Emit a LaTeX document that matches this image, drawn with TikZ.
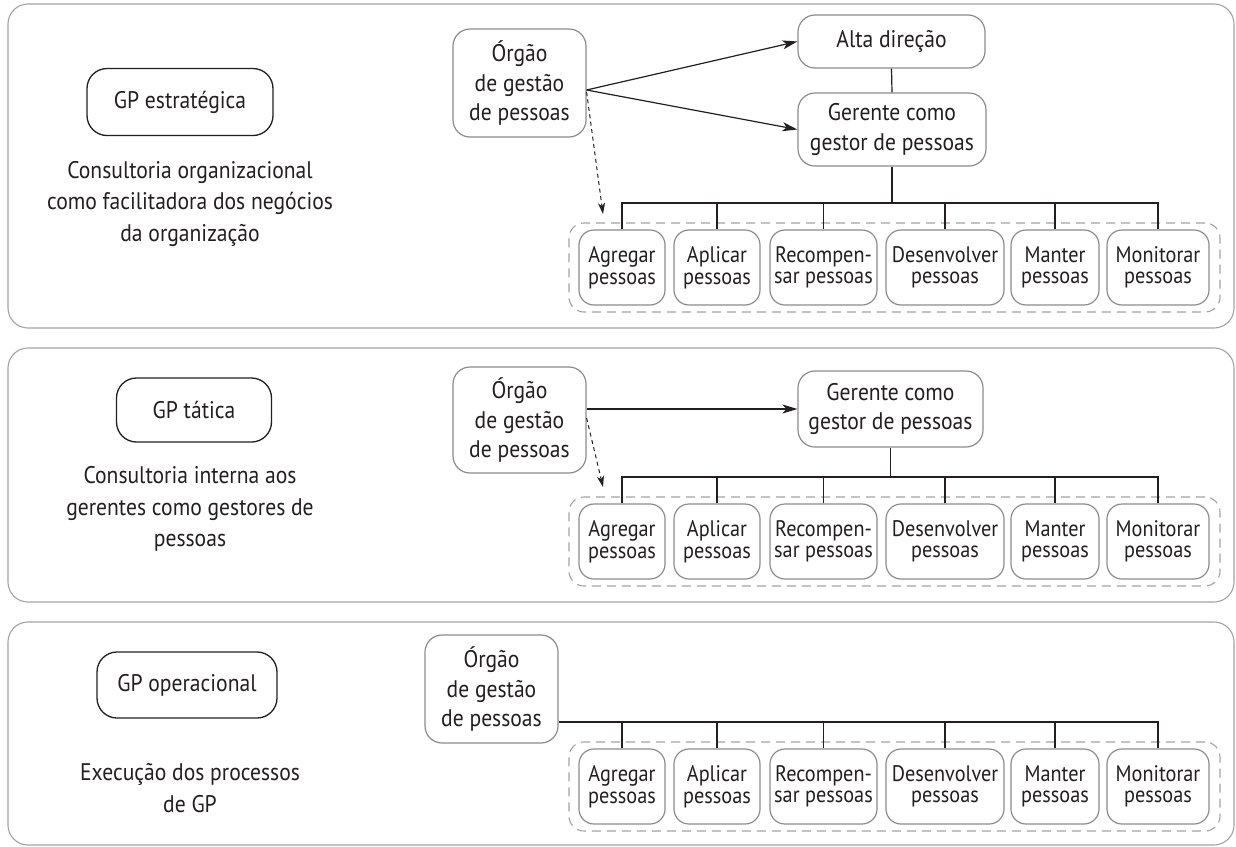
\documentclass[tikz,border=0pt]{standalone}
\usepackage{fontspec}
\setmainfont{PT Sans}[FakeStretch=0.9]
\usetikzlibrary{arrows.meta}
\definecolor{ink}{HTML}{231F20}
\definecolor{frame}{HTML}{A3A3A3}
\definecolor{boxline}{HTML}{8C8C8C}
\tikzset{
  panel/.style={draw=frame, line width=1.1pt, rounded corners=20pt},
  levelbox/.style={draw=ink, line width=1.3pt, rounded corners=20pt, inner sep=0pt,
    font=\fontsize{24}{30}\selectfont, text=ink},
  desc/.style={align=center, inner sep=0pt, font=\fontsize{24}{31.5}\selectfont, text=ink},
  unitbox/.style={draw=boxline, line width=1.2pt, rounded corners=17pt, inner sep=0pt,
    align=center, font=\fontsize{24}{29.5}\selectfont, text=ink},
  procbox/.style={draw=boxline, line width=1.2pt, rounded corners=15pt, inner sep=0pt,
    align=center, minimum height=75pt, font=\fontsize{22.5}{21.5}\selectfont, text=ink},
  group/.style={draw=frame, line width=1.1pt, dash pattern=on 9pt off 6pt,
    rounded corners=15pt, inner sep=0pt},
  link/.style={draw=ink, line width=1.2pt},
  solidarrow/.style={link, -{Stealth[length=15pt, width=9pt, inset=4pt]}},
  dasharrow/.style={draw=ink, line width=1pt, dash pattern=on 4pt off 3.5pt,
    -{Stealth[length=11pt, width=7pt, inset=3pt]}}
}
% one row of the six processes, centred vertically at #2, names suffixed by #1
\newcommand{\processrow}[2]{%
  \node[group, minimum width=651pt, minimum height=89pt] (grp#1) at (894.5,#2) {};
  \node[procbox, minimum width=86pt]  (agr#1) at (622,#2)   {Agregar\\pessoas};
  \node[procbox, minimum width=86pt]  (apl#1) at (717,#2)   {Aplicar\\pessoas};
  \node[procbox, minimum width=107pt] (rec#1) at (823.5,#2) {Recompen-\\sar pessoas};
  \node[procbox, minimum width=118pt] (des#1) at (945,#2)   {Desenvolver\\pessoas};
  \node[procbox, minimum width=88pt]  (man#1) at (1055,#2)  {Manter\\pessoas};
  \node[procbox, minimum width=102pt] (mon#1) at (1158,#2)  {Monitorar\\pessoas};
}
% drops from the bus line #2 into every process box of row #1
\newcommand{\processdrops}[2]{%
  \draw[link] (agr#1.north) |- (mon#1.north |- #2) -- (mon#1.north);
  \foreach \b in {apl,rec,des,man}{\draw[link] (\b#1.north) -- (\b#1.north |- #2);}
}
\begin{document}
\begin{tikzpicture}[x=1pt, y=-1pt]
\useasboundingbox (0,0) rectangle (1236,846);
\fill[white] (0,0) rectangle (1236,846);

% ---------- strategic level ----------
\draw[panel] (8,4) rectangle (1234,328);
\node[levelbox, minimum width=186pt, minimum height=67pt] (gp1) at (180,102) {GP estratégica};
\node[desc] (txt1) at (190,203.5) {Consultoria organizacional\\como facilitadora dos negócios\\da organização};
\node[unitbox, minimum width=133pt, minimum height=108pt] (org1) at (519.5,83) {Órgão\\de gestão\\de pessoas};
\node[unitbox, minimum width=187pt, minimum height=53pt] (alta) at (891.5,41.5) {Alta direção};
\node[unitbox, minimum width=188pt, minimum height=73pt] (ger1) at (892,129.5) {Gerente como\\gestor de pessoas};
\processrow{1}{267.5}
\coordinate (bus1) at (0,203);
\coordinate (tip1) at (603,214);
\draw[solidarrow] ([yshift=-7pt]org1.east) -- (alta.west);
\draw[solidarrow] ([yshift=-7pt]org1.east) -- (ger1.west);
\draw[dasharrow] ([yshift=-9pt]org1.east) -- (tip1);
\draw[link] (alta.south) -- (ger1.north);
\draw[link] (ger1.south) -- (ger1.south |- bus1);
\processdrops{1}{bus1}

% ---------- tactical level ----------
\draw[panel] (8,348) rectangle (1234,602);
\node[levelbox, minimum width=155pt, minimum height=64pt] (gp2) at (194,410) {GP tática};
\node[desc] (txt2) at (190,509) {Consultoria interna aos\\gerentes como gestores de\\pessoas};
\node[unitbox, minimum width=133pt, minimum height=106pt] (org2) at (519.5,420) {Órgão\\de gestão\\de pessoas};
\node[unitbox, minimum width=185pt, minimum height=76pt] (ger2) at (890.5,409) {Gerente como\\gestor de pessoas};
\processrow{2}{541.5}
\coordinate (bus2) at (0,477);
\coordinate (tip2) at (603,487);
\draw[solidarrow] (org2.east |- ger2.west) -- (ger2.west);
\draw[dasharrow] ([yshift=-9pt]org2.east |- ger2.west) -- (tip2);
\draw[link] (ger2.south) -- (ger2.south |- bus2);
\processdrops{2}{bus2}

% ---------- operational level ----------
\draw[panel] (8,622) rectangle (1234,845);
\node[levelbox, minimum width=180pt, minimum height=66pt] (gp3) at (187,685) {GP operacional};
\node[desc] (txt3) at (190,788) {Execução dos processos\\de GP};
\node[unitbox, minimum width=133pt, minimum height=108pt] (org3) at (491.5,689) {Órgão\\de gestão\\de pessoas};
\processrow{3}{786.5}
\coordinate (bus3) at (0,722);
\draw[link] (org3.east |- bus3) -- (mon3.north |- bus3) -- (mon3.north);
\foreach \b in {agr,apl,rec,des,man}{\draw[link] (\b3.north) -- (\b3.north |- bus3);}
\end{tikzpicture}
\end{document}
